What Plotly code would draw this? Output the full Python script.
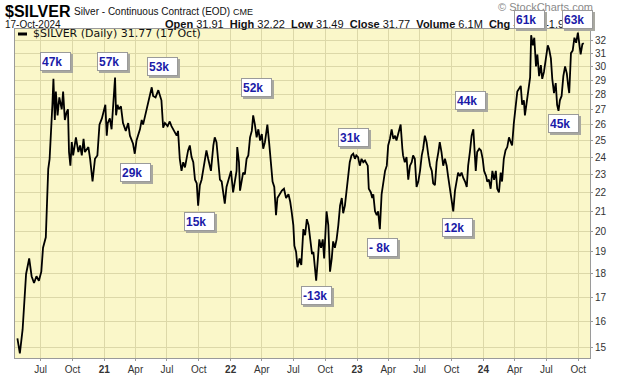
import math
import plotly.graph_objects as go

# ---------------- data ----------------
dates = [
 "2020-04-25","2020-05-02","2020-05-10","2020-05-17","2020-05-20","2020-05-29","2020-06-05","2020-06-12","2020-06-19","2020-06-26",
 "2020-07-03","2020-07-08","2020-07-16","2020-07-20","2020-07-23","2020-07-27","2020-08-01","2020-08-04","2020-08-07","2020-08-11",
 "2020-08-14","2020-08-19","2020-08-24","2020-08-31","2020-09-04","2020-09-09","2020-09-14","2020-09-18","2020-09-21","2020-09-25",
 "2020-09-29","2020-10-03","2020-10-11","2020-10-18","2020-10-23","2020-10-28","2020-11-02","2020-11-06","2020-11-16","2020-11-21",
 "2020-11-28","2020-12-05","2020-12-12","2020-12-18","2020-12-25",
 "2021-01-04","2021-01-08","2021-01-11","2021-01-17","2021-01-22","2021-02-01","2021-02-04","2021-02-08","2021-02-12","2021-02-18",
 "2021-02-24","2021-03-04","2021-03-11","2021-03-16","2021-03-25","2021-03-30","2021-04-04","2021-04-14","2021-04-19","2021-04-23",
 "2021-04-30","2021-05-06","2021-05-13","2021-05-18","2021-05-22","2021-05-29","2021-06-06","2021-06-11","2021-06-15","2021-06-20",
 "2021-06-25","2021-07-03","2021-07-09","2021-07-14","2021-07-22","2021-07-29","2021-08-02","2021-08-07","2021-08-12","2021-08-17",
 "2021-08-22","2021-08-31","2021-09-05","2021-09-10","2021-09-15","2021-09-20","2021-09-25","2021-09-29","2021-10-04","2021-10-09",
 "2021-10-19","2021-10-23","2021-10-28","2021-11-05","2021-11-12","2021-11-16","2021-11-21","2021-11-26","2021-12-01","2021-12-06",
 "2021-12-10","2021-12-15","2021-12-20","2021-12-25",
 "2022-01-02","2022-01-08","2022-01-18","2022-01-20","2022-01-25","2022-01-28","2022-02-06","2022-02-11","2022-02-16","2022-02-21",
 "2022-02-26","2022-03-03","2022-03-07","2022-03-12","2022-03-17","2022-03-22","2022-03-27","2022-04-01","2022-04-05","2022-04-10",
 "2022-04-17","2022-04-22","2022-04-27","2022-05-02","2022-05-07","2022-05-12","2022-05-16","2022-05-22","2022-05-29","2022-06-04",
 "2022-06-10","2022-06-17","2022-06-22","2022-06-26","2022-07-01","2022-07-04","2022-07-09","2022-07-13","2022-07-19","2022-07-24",
 "2022-07-30","2022-08-04","2022-08-09","2022-08-14","2022-08-19","2022-08-24","2022-08-28","2022-09-02","2022-09-05","2022-09-10",
 "2022-09-14","2022-09-19","2022-09-24","2022-09-28","2022-10-03","2022-10-05","2022-10-10","2022-10-15","2022-10-20","2022-10-24",
 "2022-10-29","2022-11-03","2022-11-08","2022-11-13","2022-11-18","2022-11-22","2022-11-27","2022-12-02","2022-12-07","2022-12-11",
 "2022-12-16","2022-12-21","2022-12-26","2022-12-30",
 "2023-01-04","2023-01-09","2023-01-14","2023-01-19","2023-01-24","2023-02-01","2023-02-04","2023-02-10","2023-02-14","2023-02-17",
 "2023-02-22","2023-02-27","2023-03-03","2023-03-08","2023-03-13","2023-03-18","2023-03-23","2023-03-28","2023-04-01","2023-04-06",
 "2023-04-11","2023-04-16","2023-04-21","2023-04-25","2023-04-30","2023-05-07","2023-05-12","2023-05-14","2023-05-19","2023-05-24",
 "2023-05-29","2023-06-03","2023-06-08","2023-06-12","2023-06-17","2023-06-22","2023-06-27","2023-07-02","2023-07-07","2023-07-11",
 "2023-07-16","2023-07-21","2023-07-26","2023-07-31","2023-08-05","2023-08-09","2023-08-14","2023-08-19","2023-08-24","2023-08-28",
 "2023-09-02","2023-09-07","2023-09-12","2023-09-17","2023-09-21","2023-09-26","2023-10-01","2023-10-06","2023-10-11","2023-10-16",
 "2023-10-20","2023-10-25","2023-10-30","2023-11-04","2023-11-09","2023-11-14","2023-11-18","2023-11-23","2023-11-28","2023-12-03",
 "2023-12-07","2023-12-10","2023-12-14","2023-12-20","2023-12-25","2023-12-30",
 "2024-01-03","2024-01-09","2024-01-12","2024-01-17","2024-01-22","2024-01-27","2024-02-01","2024-02-06","2024-02-10","2024-02-15",
 "2024-02-20","2024-02-24","2024-02-29","2024-03-05","2024-03-10","2024-03-15","2024-03-20","2024-03-24","2024-03-29","2024-04-03",
 "2024-04-08","2024-04-13","2024-04-18","2024-04-22","2024-04-27","2024-04-30","2024-05-05","2024-05-10","2024-05-15","2024-05-18",
 "2024-05-23","2024-05-27","2024-06-01","2024-06-05","2024-06-10","2024-06-15","2024-06-19","2024-06-24","2024-06-30","2024-07-05",
 "2024-07-09","2024-07-14","2024-07-18","2024-07-23","2024-07-28","2024-08-01","2024-08-05","2024-08-09","2024-08-14","2024-08-19",
 "2024-08-24","2024-08-29","2024-09-02","2024-09-05","2024-09-10","2024-09-15","2024-09-20","2024-09-25","2024-09-30","2024-10-04",
 "2024-10-08","2024-10-13","2024-10-17",
]
prices = [
 15.36,14.8,15.7,17.2,18.0,18.7,17.9,17.6,17.9,17.7,
 18.1,19.2,19.7,21.7,23.3,23.9,25.6,27.3,29.1,26.3,
 28.2,26.6,27.8,27.0,28.2,26.3,26.8,27.0,24.3,23.5,
 24.9,24.1,25.2,24.3,24.7,24.1,25.1,24.3,24.6,23.9,
 22.6,23.9,24.1,26.0,26.4,
 27.3,25.3,26.1,26.4,25.7,29.2,26.6,27.3,27.0,27.2,
 26.1,25.6,26.1,25.3,24.8,24.2,25.0,25.7,26.3,26.0,
 26.7,27.2,28.0,28.5,27.9,27.8,28.3,27.9,27.6,25.8,
 26.1,25.9,26.2,25.9,25.6,25.3,25.6,23.9,23.2,23.7,
 23.4,24.4,24.7,24.0,23.7,22.7,22.5,21.3,22.4,22.7,
 23.9,24.4,23.9,23.2,24.7,25.2,24.9,23.9,22.7,22.6,
 22.0,21.4,22.3,22.6,
 23.2,22.0,23.2,24.6,23.7,22.1,23.1,23.0,23.9,24.1,
 25.2,25.6,26.6,26.0,25.2,25.7,25.0,25.4,24.5,24.9,
 26.0,24.9,23.5,22.6,22.3,20.8,21.7,21.9,22.1,22.2,
 21.7,21.9,21.5,21.0,20.3,19.3,19.0,18.3,18.7,18.4,
 20.1,19.8,20.6,20.3,19.5,18.9,19.0,18.1,17.7,18.7,
 19.6,19.2,19.6,18.7,20.3,21.0,20.3,18.1,18.7,19.5,
 19.2,19.6,20.3,21.3,21.7,20.9,21.3,22.2,23.2,23.7,
 24.1,24.2,23.9,24.1,
 24.0,23.5,23.9,23.7,23.8,23.5,22.2,22.0,21.7,21.9,
 21.0,20.8,21.0,20.1,21.9,22.6,23.2,23.5,24.7,25.1,
 25.7,25.1,25.3,25.0,25.5,26.0,24.5,24.1,23.7,24.0,
 22.7,23.5,23.7,24.1,23.9,22.3,22.6,23.2,24.1,24.5,
 25.3,24.9,24.1,23.5,23.2,22.5,22.4,23.7,24.3,24.9,
 24.3,23.5,23.9,23.5,22.9,22.3,21.7,21.0,22.1,22.6,
 23.1,22.9,23.1,22.8,22.6,22.3,23.5,24.3,25.3,25.7,
 23.9,23.2,24.3,24.5,24.4,23.9,
 23.2,22.9,22.6,22.7,22.2,23.2,22.7,23.2,22.2,22.0,
 23.1,22.6,23.9,24.4,24.6,25.2,24.9,24.7,26.1,27.3,
 28.2,28.4,28.6,27.3,27.6,26.6,27.5,28.2,29.2,32.4,
 31.6,32.2,30.0,30.9,29.3,30.1,29.1,29.6,30.9,31.6,
 31.3,30.6,29.1,28.1,28.8,27.3,26.9,27.6,27.9,29.3,
 30.0,29.5,28.6,28.1,31.0,31.2,32.2,31.8,32.6,31.8,
 30.9,31.7,31.77,
]

# net-position labels (text, anchor date, anchor price level)
label_text = ["47k", "57k", "53k", "29k", "15k", "52k", "-13k", "31k", "- 8k", "12k", "44k", "45k", "61k", "63k"]
label_date = ["2020-08-14", "2021-01-26", "2021-06-19", "2021-04-02", "2021-10-04", "2022-03-18", "2022-09-07",
              "2022-12-23", "2023-03-17", "2023-10-19", "2023-11-26", "2024-08-18", "2024-05-12", "2024-09-30"]
label_price = [30.4, 30.4, 30.0, 23.1, 20.5, 28.5, 17.06, 25.2, 19.2, 20.2, 27.6, 26.1, 33.65, 33.7]

y_ticks = list(range(15, 33))
x_ticks = ["2020-07-01", "2020-10-01", "2021-01-01", "2021-04-01", "2021-07-01", "2021-10-01",
           "2022-01-01", "2022-04-01", "2022-07-01", "2022-10-01", "2023-01-01", "2023-04-01",
           "2023-07-01", "2023-10-01", "2024-01-01", "2024-04-01", "2024-07-01", "2024-10-01"]
x_ticktext = ["Jul", "Oct", "<b>21</b>", "Apr", "Jul", "Oct", "<b>22</b>", "Apr", "Jul", "Oct",
              "<b>23</b>", "Apr", "Jul", "Oct", "<b>24</b>", "Apr", "Jul", "Oct"]

# ---------------- layout geometry ----------------
W, H = 620, 376
L, R, T, B = 15, 30, 29, 18
y_lo, y_hi = 14.635, 32.9
LOG_LO, LOG_HI = math.log10(y_lo), math.log10(y_hi)

def fx(px):
    return (px - L) / (W - L - R)

def fy(py):
    return (H - B - py) / (H - T - B)

def price_to_paper(p):
    return (math.log10(p) - LOG_LO) / (LOG_HI - LOG_LO)

BG = "#FAF7C9"
GRID = "#DCD8A8"
FONT = "Liberation Sans"

fig = go.Figure()
fig.add_trace(go.Scatter(x=dates, y=prices, mode="lines",
                         line=dict(color="black", width=1.8), hoverinfo="skip",
                         showlegend=False))

annotations = []

# header texts
annotations += [
    dict(text="<b>$SILVER</b>", x=fx(3), y=fy(11), font=dict(size=16, color="black", family=FONT)),
    dict(text="Silver - Continuous Contract (EOD)", x=fx(72), y=fy(12), font=dict(size=10, color="#111", family=FONT)),
    dict(text="CME", x=fx(231), y=fy(12.5), font=dict(size=9, color="#111", family=FONT)),
    dict(text="17-Oct-2024", x=fx(3), y=fy(24), font=dict(size=10, color="#111", family=FONT)),
    dict(text="<b>Open</b> 31.91  <b>High</b> 32.22  <b>Low</b> 31.49  <b>Close</b> 31.77  <b>Volume</b> 6.1M  <b>Chg</b> -0.63 (-1.94%)",
         x=fx(163), y=fy(24), font=dict(size=11, color="#111", family=FONT)),
    dict(text="© StockCharts.com", x=fx(496), y=fy(7), font=dict(size=11, color="#8a8a8a", family=FONT)),
    dict(text="$SILVER (Daily) 31.77 (17 Oct)", x=fx(31), y=fy(34), font=dict(size=11, color="#111", family="DejaVu Sans")),
]
for a in annotations:
    a.update(xref="paper", yref="paper", xanchor="left", yanchor="middle", showarrow=False)

# position labels with drop shadow
for t, d, p in zip(label_text, label_date, label_price):
    yp = price_to_paper(p)
    annotations.append(dict(text="&nbsp;", x=d, y=yp, xref="x", yref="paper",
                            xanchor="center", yanchor="middle", showarrow=False,
                            xshift=2, yshift=-2, width=27, height=15,
                            bgcolor="#A8A8A0", bordercolor="#A8A8A0", borderwidth=1, borderpad=1,
                            font=dict(size=12, color="#A8A8A0", family=FONT)))
    annotations.append(dict(text="<b>%s</b>" % t, x=d, y=yp, xref="x", yref="paper",
                            xanchor="center", yanchor="middle", showarrow=False,
                            width=27, height=15, align="left",
                            bgcolor="white", bordercolor="#9a9a9a", borderwidth=1, borderpad=1,
                            font=dict(size=12, color="#1B1BA8", family=FONT)))

shapes = [dict(type="line", xref="paper", yref="paper", x0=fx(18), x1=fx(27), y0=fy(34), y1=fy(34),
               line=dict(color="black", width=3))]

fig.update_layout(
    width=W, height=H,
    margin=dict(l=L, r=R, t=T, b=B, autoexpand=False),
    paper_bgcolor="white",
    plot_bgcolor=BG,
    showlegend=False,
    annotations=annotations,
    shapes=shapes,
    xaxis=dict(type="date", range=["2020-04-18", "2024-11-04"], automargin=False,
               tickvals=x_ticks, ticktext=x_ticktext, showgrid=True, gridcolor=GRID, gridwidth=1,
               showline=True, linecolor="#9a9a9a", mirror=True, ticks="outside", ticklen=2,
               tickcolor="#9a9a9a", tickfont=dict(size=10, color="#333", family=FONT),
               zeroline=False, fixedrange=True),
    yaxis=dict(type="log", range=[LOG_LO, LOG_HI], side="right", automargin=False,
               tickvals=y_ticks, ticktext=[str(v) for v in y_ticks],
               showgrid=True, gridcolor=GRID, gridwidth=1,
               showline=True, linecolor="#9a9a9a", mirror=True, ticks="outside", ticklen=2,
               tickcolor="#9a9a9a", tickfont=dict(size=10, color="#333", family=FONT),
               zeroline=False, fixedrange=True),
)

fig.write_html("out.html", config={"displayModeBar": False},
               post_script="document.body.style.margin='0px';")
